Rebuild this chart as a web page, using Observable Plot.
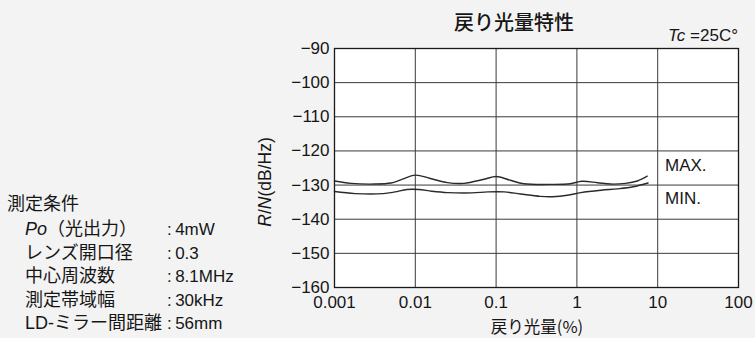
<!DOCTYPE html>
<html>
<head>
<meta charset="utf-8">
<script src="https://cdn.jsdelivr.net/npm/d3@7"></script>
<script src="https://cdn.jsdelivr.net/npm/@observablehq/plot@0.6"></script>
<style>
  html, body { margin: 0; padding: 0; background: #f3f3f3; }
  #wrap { position: relative; width: 755px; height: 338px; background: #f3f3f3; overflow: hidden;
          font-family: "Liberation Sans", "Noto Sans CJK JP", sans-serif; color: #161616; }
  #wrap svg { position: absolute; left: 0; top: 0; }
  .ov { position: absolute; white-space: nowrap; line-height: 1; }
</style>
</head>
<body>
<div id="wrap"></div>
<script>
// ---- data ----
const title = "戻り光量特性";
const condition = "Tc =25C°";
const xLabel = "戻り光量(%)";
const yLabel = "R/N(dB/Hz)";
const seriesNames = ["MAX.", "MIN."];

const xTicks = [0.001, 0.01, 0.1, 1, 10, 100];
const xTickLabels = ["0.001", "0.01", "0.1", "1", "10", "100"];
const yTicks = [-160, -150, -140, -130, -120, -110, -100, -90];

// MAX curve: return light (%) and R/N (dB/Hz)
const maxX = [0.001, 0.0016, 0.0032, 0.005, 0.0066, 0.01, 0.015, 0.025, 0.04, 0.071, 0.1, 0.15, 0.22, 0.5, 0.83, 1.15, 1.8, 2.6, 4, 5.6, 7.4];
const maxY = [-128.8, -129.5, -129.7, -129.4, -128.5, -127.1, -128.0, -129.3, -129.5, -128.3, -127.5, -128.6, -129.6, -129.8, -129.6, -128.9, -129.3, -129.7, -129.5, -128.8, -127.4];

// MIN curve
const minX = [0.001, 0.0018, 0.004, 0.0056, 0.0079, 0.011, 0.016, 0.025, 0.05, 0.079, 0.126, 0.2, 0.35, 0.5, 0.76, 1.12, 2, 3.2, 5, 7.6];
const minY = [-131.9, -132.5, -132.5, -132.0, -131.3, -131.3, -131.8, -132.2, -132.3, -132.0, -132.0, -132.6, -133.3, -133.4, -133.0, -132.2, -131.5, -131.1, -130.5, -129.4];

// measurement conditions
const condHeading = "測定条件";
const condNames = ["Po（光出力）", "レンズ開口径", "中心周波数", "測定帯域幅", "LD-ミラー間距離"];
const condValues = ["4mW", "0.3", "8.1MHz", "30kHz", "56mm"];

// ---- build ----
const maxData = maxX.map((x, i) => ({x, y: maxY[i]}));
const minData = minX.map((x, i) => ({x, y: minY[i]}));

const chart = Plot.plot({
  width: 755,
  height: 338,
  marginLeft: 334,
  marginRight: 17,
  marginTop: 48,
  marginBottom: 51,
  style: {
    background: "transparent",
    fontFamily: "'Liberation Sans', Arial, sans-serif",
    fontSize: "17px",
    color: "#161616",
    overflow: "visible"
  },
  x: {
    type: "log",
    domain: [0.001, 100],
    ticks: xTicks,
    tickFormat: d => xTickLabels[xTicks.indexOf(d)] ?? "",
    tickSize: 0,
    tickPadding: 8,
    label: null
  },
  y: {
    domain: [-160, -90],
    ticks: yTicks,
    tickFormat: d => (d < 0 ? "\u2212" : "") + Math.abs(d),
    tickSize: 0,
    tickPadding: 5,
    label: null
  },
  marks: [
    Plot.frame({fill: "white", stroke: null}),
    Plot.ruleX(xTicks, {stroke: "#3a3a3a", strokeWidth: 1}),
    Plot.ruleY(yTicks, {stroke: "#3a3a3a", strokeWidth: 1}),
    Plot.line(maxData, {x: "x", y: "y", curve: "catmull-rom", stroke: "#2a2a2a", strokeWidth: 1.4}),
    Plot.line(minData, {x: "x", y: "y", curve: "catmull-rom", stroke: "#2a2a2a", strokeWidth: 1.4}),
    Plot.frame({stroke: "#1a1a1a", strokeWidth: 1.3})
  ]
});

const wrap = document.getElementById("wrap");
wrap.appendChild(chart);

function ov(html, css) {
  const d = document.createElement("div");
  d.className = "ov";
  d.innerHTML = html;
  Object.assign(d.style, css);
  wrap.appendChild(d);
  return d;
}

// title
ov(title, {left: "514px", top: "22px", transform: "translate(-50%,-50%)", fontSize: "20px",
  fontFamily: "'Noto Sans CJK JP', sans-serif", fontWeight: "500"});
// condition (Tc italic)
ov(condition.replace(/^Tc/, "<i>Tc</i>"), {right: "17px", top: "35px", transform: "translateY(-50%)", fontSize: "17px"});
// x label
ov(xLabel, {left: "537px", top: "326px", transform: "translate(-50%,-50%)", fontSize: "16.5px",
  fontFamily: "'Noto Sans CJK JP', sans-serif"});
// y label, rotated, R and N italic
ov(yLabel.replace(/^R\/N/, "<i>R</i>/<i>N</i>"), {left: "266px", top: "182px", transform: "translate(-50%,-50%) rotate(-90deg)", fontSize: "17.5px"});
// series labels
ov(seriesNames[0], {left: "665px", top: "165px", transform: "translateY(-50%)", fontSize: "17px"});
ov(seriesNames[1], {left: "665px", top: "198px", transform: "translateY(-50%)", fontSize: "17px"});

// measurement conditions
ov(condHeading, {left: "7px", top: "204px", transform: "translateY(-50%)", fontSize: "18px"});
condNames.forEach((name, i) => {
  const y = 229 + i * 23.6;
  ov(name.replace(/^Po/, "<i>Po</i>"), {left: "25px", top: y + "px", transform: "translateY(-50%)", fontSize: "18px"});
  ov(":\u2009" + condValues[i], {left: "167px", top: y + "px", transform: "translateY(-50%)", fontSize: "17px"});
});
</script>
</body>
</html>
